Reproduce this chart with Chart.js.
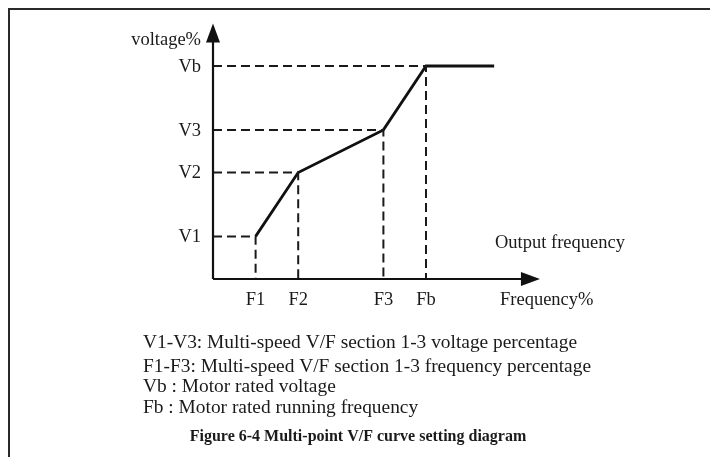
<!DOCTYPE html>
<html>
<head>
<meta charset="utf-8">
<script src="https://cdn.jsdelivr.net/npm/chart.js@4"></script>
<style>
html,body{margin:0;padding:0;background:#fff;}
#wrap{width:710px;height:457px;position:relative;}
</style>
</head>
<body>
<div id="wrap"><canvas id="c" width="710" height="457"></canvas></div>
<script>
// ---- data (percentages, schematic) ----
const freqLabels = ['F1', 'F2', 'F3', 'Fb'];
const freqValues = [20, 40, 80, 100];
const voltLabels = ['V1', 'V2', 'V3', 'Vb'];
const voltValues = [20, 50, 70, 100];
const flatEndFreq = 132;           // end of the flat section after Fb
const xAxisEnd = 153.5;            // arrow tip of frequency axis
const yAxisEnd = 120;              // arrow tip of voltage axis
const xAxisTitle = 'Frequency%';
const yAxisTitle = 'voltage%';
const curveTitle = 'Output frequency';
const notes = [
  'V1-V3: Multi-speed V/F section 1-3 voltage percentage',
  'F1-F3: Multi-speed V/F section 1-3 frequency percentage',
  'Vb : Motor rated voltage',
  'Fb : Motor rated running frequency'
];
const caption = 'Figure 6-4 Multi-point V/F curve setting diagram';

// ---- build datasets ----
const curve = freqValues.map((f, i) => ({x: f, y: voltValues[i]}));
curve.push({x: flatEndFreq, y: voltValues[voltValues.length - 1]});

const guides = freqValues.map((f, i) => ({
  data: [{x: 0, y: voltValues[i]}, {x: f, y: voltValues[i]}, {x: f, y: 0}],
  borderColor: '#1a1a1a',
  borderWidth: 2,
  borderDash: [9, 5],
  pointRadius: 0,
  showLine: true,
  fill: false,
  tension: 0
}));

const SERIF = '"Liberation Serif", "DejaVu Serif", serif';

const decor = {
  id: 'decor',
  beforeDraw(chart) {
    const ctx = chart.ctx;
    ctx.save();
    ctx.strokeStyle = '#2a2a2a';
    ctx.lineWidth = 2;
    ctx.beginPath();
    ctx.moveTo(9, 457);
    ctx.lineTo(9, 9);
    ctx.lineTo(710, 9);
    ctx.stroke();
    ctx.restore();
  },
  afterDraw(chart) {
    const ctx = chart.ctx;
    const xs = chart.scales.x, ys = chart.scales.y;
    const x0 = xs.getPixelForValue(0), y0 = ys.getPixelForValue(0);
    const xEnd = xs.getPixelForValue(xAxisEnd), yEnd = ys.getPixelForValue(yAxisEnd);
    ctx.save();
    ctx.strokeStyle = '#111';
    ctx.fillStyle = '#111';
    ctx.lineWidth = 2.2;
    ctx.beginPath();
    ctx.moveTo(x0, y0);
    ctx.lineTo(x0, yEnd + 14);
    ctx.moveTo(x0, y0);
    ctx.lineTo(xEnd - 14, y0);
    ctx.stroke();
    // arrow heads
    ctx.beginPath();
    ctx.moveTo(x0, yEnd);
    ctx.lineTo(x0 - 7, yEnd + 19);
    ctx.lineTo(x0 + 7, yEnd + 19);
    ctx.closePath();
    ctx.fill();
    ctx.beginPath();
    ctx.moveTo(xEnd, y0);
    ctx.lineTo(xEnd - 19, y0 - 7);
    ctx.lineTo(xEnd - 19, y0 + 7);
    ctx.closePath();
    ctx.fill();

    // tick labels
    ctx.font = '18.5px ' + SERIF;
    ctx.fillStyle = '#1a1a1a';
    ctx.textAlign = 'right';
    ctx.textBaseline = 'middle';
    voltLabels.forEach((l, i) => ctx.fillText(l, x0 - 12, ys.getPixelForValue(voltValues[i]) + 1));
    ctx.fillText(yAxisTitle, x0 - 12, yEnd + 17);
    ctx.textAlign = 'center';
    freqLabels.forEach((l, i) => ctx.fillText(l, xs.getPixelForValue(freqValues[i]), y0 + 21));
    ctx.textAlign = 'left';
    ctx.fillText(xAxisTitle, 500, y0 + 21);
    ctx.fillText(curveTitle, 495, y0 - 36);

    // notes
    ctx.font = '19.4px ' + SERIF;
    const noteY = [343, 367, 387, 408];
    notes.forEach((t, i) => ctx.fillText(t, 143, noteY[i]));
    ctx.font = 'bold 16px ' + SERIF;
    ctx.textAlign = 'center';
    ctx.fillText(caption, 358, 437);
    ctx.restore();
  }
};

new Chart(document.getElementById('c'), {
  type: 'scatter',
  data: {
    datasets: [
      ...guides,
      {
        data: curve,
        borderColor: '#111',
        borderWidth: 2.8,
        pointRadius: 0,
        showLine: true,
        fill: false,
        tension: 0
      }
    ]
  },
  options: {
    responsive: false,
    animation: false,
    devicePixelRatio: 1,
    layout: {padding: {left: 213, right: 710 - 213 - 150 * 2.13, top: 279 - 120 * 2.13, bottom: 457 - 279}},
    plugins: {legend: {display: false}, tooltip: {enabled: false}},
    scales: {
      x: {type: 'linear', min: 0, max: 150, display: false},
      y: {type: 'linear', min: 0, max: 120, display: false}
    },
    clip: false
  },
  plugins: [decor]
});
</script>
</body>
</html>
